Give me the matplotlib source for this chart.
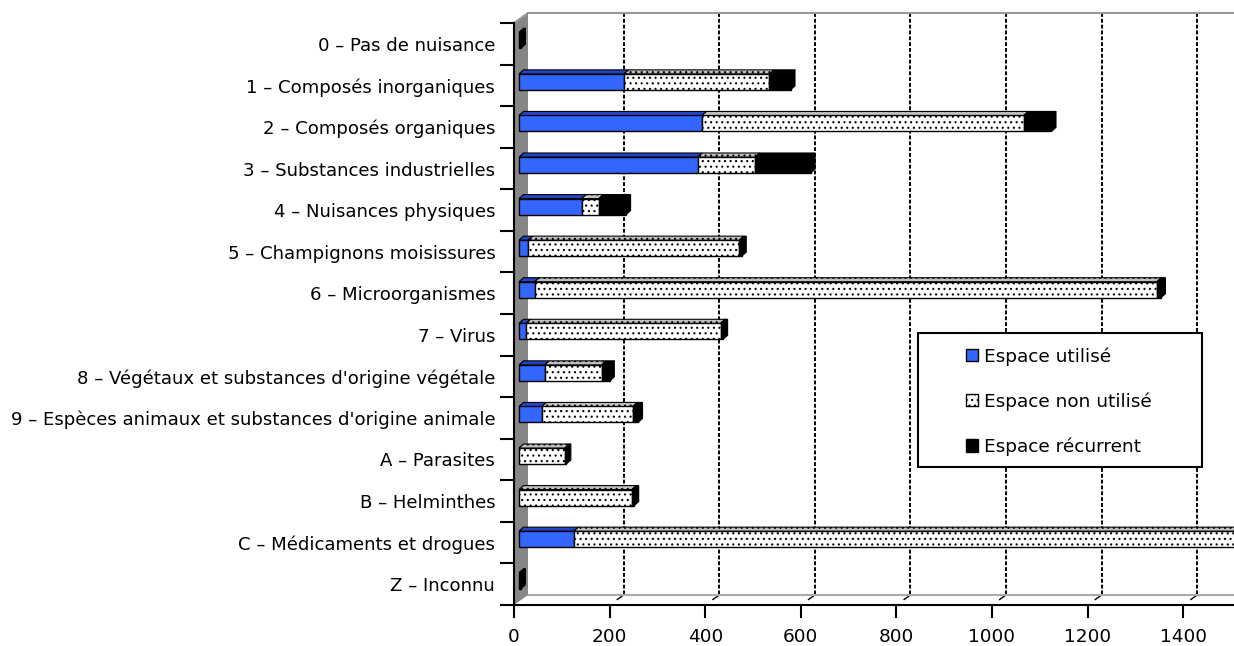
import matplotlib.pyplot as plt
import matplotlib.patches as mpatches
from matplotlib.patches import Polygon, Rectangle

# categories (top to bottom) and the three stacked series
categories = [
    '0 – Pas de nuisance', '1 – Composés inorganiques', '2 – Composés organiques',
    '3 – Substances industrielles', '4 – Nuisances physiques',
    '5 – Champignons moisissures', '6 – Microorganismes', '7 – Virus',
    "8 – Végétaux et substances d'origine végétale",
    "9 – Espèces animaux et substances d'origine animale",
    'A – Parasites', 'B – Helminthes', 'C – Médicaments et drogues', 'Z – Inconnu',
]
utilise = [0, 220, 383, 374, 131, 19, 33, 15, 54, 48, 0, 0, 115, 0]
non_utilise = [0, 304, 673, 120, 36, 442, 1301, 407, 119, 190, 96, 236, 1405, 0]
recurrent = [4, 44, 58, 116, 57, 5, 9, 5, 17, 11, 3, 5, 0, 4]
series_names = ['Espace utilisé', 'Espace non utilisé', 'Espace récurrent']
x_ticks = [0, 200, 400, 600, 800, 1000, 1200, 1400]

BLUE = '#3366ff'
BLUE_TOP = '#2244c8'
FS = 13.3
plt.rcParams['hatch.linewidth'] = 0.8

W, H = 1234, 646
fig = plt.figure(figsize=(W / 100, H / 100), dpi=100)
# front plane of the pseudo-3D chart
ax = fig.add_axes([514 / W, 41 / H, 717 / W, 582 / H])
xmax = 1500
n = len(categories)
ax.set_xlim(0, xmax)
ax.set_ylim(n, 0)

# pixel -> data conversions (fixed layout)
PX = xmax / 717
PY = n / 582
WX, WY = 14 * PX, -10 * PY     # depth of the walls
BX, BY = 5 * PX, -3.5 * PY     # bars sit a little inside
DX, DY = 4.5 * PX, -4 * PY     # depth of a bar
HH = 8 * PY                    # half height of a bar face

# back wall: grid lines and top edge
for v in x_ticks[1:]:
    ax.plot([v + WX, v + WX], [WY, n + WY], color='black', lw=1.4,
            ls=(0, (2, 1)), clip_on=False, zorder=1)
    ax.plot([v + WX, v + WX * 0.55], [n + WY, n + WY * 0.55], color='black',
            lw=1, clip_on=False, zorder=1)
ax.plot([WX, xmax + 2 * WX], [WY, WY], color='#999999', lw=1.5, clip_on=False, zorder=1)
ax.plot([WX, xmax + 2 * WX], [n + WY, n + WY], color='#aaaaaa', lw=1.5, clip_on=False, zorder=1)

# left wall
ax.add_patch(Polygon([(0, 0), (WX, WY), (WX, n + WY), (0, n)], closed=True,
                     facecolor='#868686', edgecolor='none', clip_on=False, zorder=1.5))
ax.plot([0, WX], [0, WY], color='#999999', lw=1.5, clip_on=False, zorder=1.5)

# bars
styles = [
    dict(face=BLUE, top=BLUE_TOP, hatch=None),
    dict(face='white', top='#c0c0c0', hatch='...'),
    dict(face='black', top='black', hatch=None),
]
for i in range(n):
    cy = i + 0.5 + BY
    left = BX
    vals = [utilise[i], non_utilise[i], recurrent[i]]
    for val, st in zip(vals, styles):
        if val <= 0:
            continue
        ax.add_patch(Rectangle((left, cy - HH), val, 2 * HH, facecolor=st['face'],
                               edgecolor='black', lw=1, hatch=st['hatch'],
                               clip_on=False, zorder=3))
        ax.add_patch(Polygon([(left, cy - HH), (left + val, cy - HH),
                              (left + val + DX, cy - HH + DY), (left + DX, cy - HH + DY)],
                             closed=True, facecolor=st['top'], edgecolor='black', lw=0.8,
                             hatch=st['hatch'], clip_on=False, zorder=3))
        left += val
    ax.add_patch(Polygon([(left, cy - HH), (left + DX, cy - HH + DY),
                          (left + DX, cy + HH + DY), (left, cy + HH)],
                         closed=True, facecolor='black', edgecolor='black', lw=0.8,
                         clip_on=False, zorder=3))

# axes styling
for s in ['top', 'right']:
    ax.spines[s].set_visible(False)
ax.spines['left'].set_linewidth(1.5)
ax.spines['bottom'].set_linewidth(1.5)
ax.spines['bottom'].set_bounds(0, xmax + 2 * WX)
ax.set_facecolor('none')

ax.set_yticks(range(n + 1))
ax.set_yticklabels([])
ax.set_yticks([i + 0.5 for i in range(n)], minor=True)
ax.set_yticklabels(categories, minor=True, fontsize=13.1)
ax.tick_params(axis='y', which='major', length=10, width=1.5, direction='out')
ax.tick_params(axis='y', which='minor', length=0, pad=13.5)
ax.set_xticks(x_ticks)
ax.set_xticklabels([str(v) for v in x_ticks], fontsize=FS)
ax.tick_params(axis='x', length=9, width=1.5, pad=7.5)

# legend
fig.patches.append(Rectangle((918 / W, 1 - 467 / H), 284 / W, 134 / H,
                             transform=fig.transFigure, facecolor='white',
                             edgecolor='black', lw=1.5, zorder=5))
handles = [
    mpatches.Patch(facecolor=BLUE, edgecolor='black', label=series_names[0]),
    mpatches.Patch(facecolor='white', edgecolor='black', hatch='...', label=series_names[1]),
    mpatches.Patch(facecolor='black', edgecolor='black', label=series_names[2]),
]
leg = fig.legend(handles=handles, loc='upper left', bbox_to_anchor=(966 / W, 1 - 347 / H),
                 frameon=False, fontsize=FS, borderpad=0, borderaxespad=0,
                 handlelength=0.65, handleheight=0.65, handletextpad=0.3,
                 labelspacing=1.45)
leg.set_zorder(6)

fig.savefig('out.png', dpi=100)
